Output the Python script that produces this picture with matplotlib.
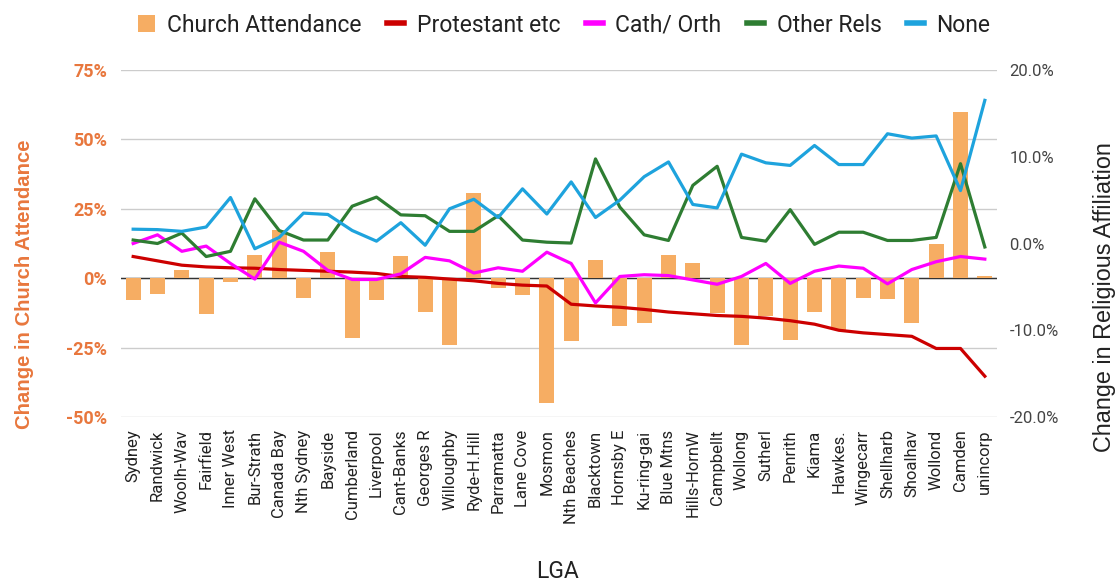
import matplotlib
matplotlib.use("Agg")
import matplotlib.pyplot as plt
from matplotlib.lines import Line2D
from matplotlib.patches import Patch
from matplotlib.ticker import FuncFormatter

plt.rcParams['font.family'] = ['Roboto', 'DejaVu Sans']

lgas = ["Sydney", "Randwick", "Woolh-Wav", "Fairfield", "Inner West", "Bur-Strath",
        "Canada Bay", "Nth Sydney", "Bayside", "Cumberland", "Liverpool", "Cant-Banks",
        "Georges R", "Willoughby", "Ryde-H.Hill", "Parramatta", "Lane Cove", "Mosmon",
        "Nth Beaches", "Blacktown", "Hornsby E", "Ku-ring-gai", "Blue Mtns", "Hills-HornW",
        "Campbellt", "Wollong", "Sutherl", "Penrith", "Kiama", "Hawkes.", "Wingecarr",
        "Shellharb", "Shoalhav", "Wollond", "Camden", "unincorp"]

church_attendance = [-7.9, -5.8, 3.1, -13.0, -1.3, 8.5, 17.3, -7.0, 9.5, -21.7, -7.9, 8.0,
                     -12.1, -23.9, 30.7, -3.7, -5.9, -45.1, -22.7, 6.7, -17.2, -16.3, 8.3, 5.3,
                     -12.6, -23.9, -13.7, -22.3, -12.1, -18.5, -7.0, -7.6, -16.1, 12.2, 59.9, 0.7]

protestant = [-1.5, -2.0, -2.5, -2.7, -2.8, -2.85, -3.0, -3.1, -3.2, -3.3, -3.45, -3.8,
              -3.9, -4.1, -4.3, -4.6, -4.8, -4.9, -7.0, -7.2, -7.35, -7.6, -7.9, -8.1,
              -8.3, -8.4, -8.6, -8.9, -9.3, -10.0, -10.3, -10.5, -10.7, -12.1, -12.1, -15.3]

cath_orth = [0.0, 1.0, -0.9, -0.3, -2.3, -4.1, 0.15, -0.9, -3.1, -4.15, -4.15, -3.5,
             -1.6, -2.0, -3.4, -2.8, -3.2, -1.0, -2.3, -6.85, -3.8, -3.6, -3.7, -4.2,
             -4.7, -3.8, -2.3, -4.6, -3.2, -2.6, -2.85, -4.65, -3.0, -2.1, -1.5, -1.8]

other_rels = [0.4, 0.0, 1.2, -1.5, -0.9, 5.15, 1.5, 0.4, 0.4, 4.3, 5.35, 3.3,
              3.2, 1.4, 1.4, 3.2, 0.4, 0.15, 0.05, 9.75, 4.2, 1.0, 0.35, 6.7,
              8.9, 0.7, 0.27, 3.9, -0.1, 1.3, 1.3, 0.35, 0.35, 0.7, 9.2, -0.4]

none_rel = [1.65, 1.6, 1.4, 1.9, 5.3, -0.6, 0.7, 3.5, 3.35, 1.5, 0.27, 2.4,
            -0.2, 4.0, 5.1, 3.0, 6.3, 3.4, 7.1, 3.0, 5.0, 7.7, 9.4, 4.5,
            4.1, 10.3, 9.3, 9.0, 11.3, 9.1, 9.1, 12.65, 12.15, 12.4, 6.1, 16.5]

left_ticks = [-50, -25, 0, 25, 50, 75]
right_ticks = [-20, -10, 0, 10, 20]

ORANGE_TXT = "#e8773d"
BAR_C = "#f6ad63"
RED = "#cc0000"
MAG = "#ff00ff"
GREEN = "#2e7d32"
BLUE = "#1ea3dd"

fig = plt.figure(figsize=(11.18, 5.81), dpi=100)
ax = fig.add_axes([121/1118, 1-417/581, (997-121)/1118, (417-70)/581])
ax2 = ax.twinx()

x = list(range(len(lgas)))
ax.bar(x, church_attendance, width=0.62, color=BAR_C, zorder=3)
ax.axhline(0, color="#333333", lw=1.0, zorder=2)
ax.set_ylim(-50, 75)
ax.set_yticks(left_ticks)
ax.yaxis.set_major_formatter(FuncFormatter(lambda v, p: f"{v:.0f}%"))
ax.grid(axis='y', color="#cccccc", lw=1.0, zorder=0)
ax.set_axisbelow(True)
ax.set_xlim(-0.5, len(lgas) - 0.5)
ax.set_xticks(x)
ax.set_xticklabels(lgas, rotation=90, fontsize=12, color="#222222")
ax.tick_params(axis='both', length=0)
ax.tick_params(axis='x', pad=9)
ax.tick_params(axis='y', pad=10)
for lab in ax.get_yticklabels():
    lab.set_color(ORANGE_TXT)
    lab.set_fontweight('bold')
    lab.set_fontsize(13)

lw = 2.3
ax2.plot(x, protestant, color=RED, lw=lw, zorder=5)
ax2.plot(x, cath_orth, color=MAG, lw=lw, zorder=5)
ax2.plot(x, other_rels, color=GREEN, lw=lw, zorder=5)
ax2.plot(x, none_rel, color=BLUE, lw=lw, zorder=5)
ax2.set_ylim(-20, 20)
ax2.set_yticks(right_ticks)
ax2.yaxis.set_major_formatter(FuncFormatter(lambda v, p: f"{v:.1f}%"))
ax2.tick_params(axis='y', length=0, pad=9, labelsize=12, labelcolor="#444444")

for a in (ax, ax2):
    for s in a.spines.values():
        s.set_visible(False)

fig.text(25/1118, 1-284/581, "Change in Church Attendance", rotation=90, ha='center', va='center',
         fontsize=14.6, fontweight='bold', color=ORANGE_TXT, family=['Liberation Sans', 'DejaVu Sans'])
fig.text(1104/1118, 1-297/581, "Change in Religious Affiliation", rotation=90, ha='center', va='center',
         fontsize=16.8, color="#222222", family=['Liberation Sans', 'DejaVu Sans'])
fig.text(558/1118, 1-571/581, "LGA", ha='center', va='center', fontsize=16.5, color="#222222")

handles = [Patch(facecolor=BAR_C, edgecolor='none'),
           Line2D([], [], color=RED, lw=4),
           Line2D([], [], color=MAG, lw=4),
           Line2D([], [], color=GREEN, lw=4),
           Line2D([], [], color=BLUE, lw=4)]
labels = ["Church Attendance", "Protestant etc", "Cath/ Orth", "Other Rels", "None"]
leg = fig.legend(handles, labels, loc='center', bbox_to_anchor=(564/1118, 1-25/581), ncol=5,
                 frameon=False, fontsize=16.5, handlelength=0.75, handleheight=0.8,
                 handletextpad=0.55, columnspacing=1.1, labelcolor="#222222")

fig.savefig("out.png", dpi=100)
